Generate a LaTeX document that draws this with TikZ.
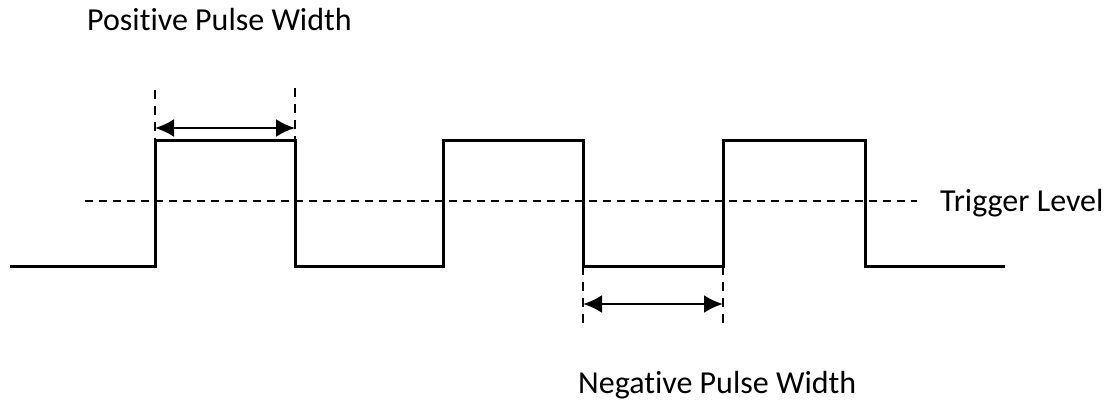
\documentclass[tikz,border=0pt]{standalone}
\usepackage{fontspec}
\setmainfont{Carlito}[Ligatures=NoCommon]
\usepackage{tikz}
\usetikzlibrary{arrows.meta}

\begin{document}
\begin{tikzpicture}[
  x=1pt,y=-1pt,
  font=\fontsize{32}{38}\selectfont,
  sig/.style={line width=3pt},
  lvl/.style={line width=2pt,dash pattern=on 8pt off 6pt},
  guide/.style={line width=2.4pt,dash pattern=on 9pt off 7pt},
  a/.style={{Latex[length=19pt,width=18pt]}-{Latex[length=19pt,width=18pt]},line width=2.6pt},
  lbl/.style={anchor=west,inner sep=0pt}
]
\useasboundingbox (0,0) rectangle (1112,405);

% signal
\draw[sig] (10,266) -- (155,266) coordinate (r1) -- (155,140) coordinate (p1)
  -- (295,140) coordinate (p2) -- (295,266) coordinate (f1)
  -- (443,266) -- (443,140) -- (583,140) -- (583,266) coordinate (n1)
  -- (723,266) coordinate (n2) -- (723,140) -- (865,140) -- (865,266) -- (1005,266);

% trigger level
\coordinate (t0) at (85,201);
\coordinate (t1) at (917,201);
\draw[lvl] (t0) -- (t1);
\node[lbl] (trig) at (940,203) {Trigger Level};

% positive width
\coordinate (u1) at (155,90);
\coordinate (u2) at (295,88);
\coordinate (v1) at (155,152);
\coordinate (v2) at (295,152);
\draw[guide] (u1) -- (v1);
\draw[guide] (u2) -- (v2);
\coordinate (a1) at (155,128);
\coordinate (a2) at (295,128);
\draw[a] (a1) -- (a2);
\node[lbl] (pos) at (87,20) {Positive Pulse Width};

% negative width
\coordinate (w1) at (583,330);
\coordinate (w2) at (723,328);
\draw[guide] (n1) -- (w1);
\draw[guide] (n2) -- (w2);
\coordinate (b1) at (583,304);
\coordinate (b2) at (723,304);
\draw[a] (b1) -- (b2);
\node[lbl] (neg) at (578,385) {Negative Pulse Width};
\end{tikzpicture}
\end{document}
